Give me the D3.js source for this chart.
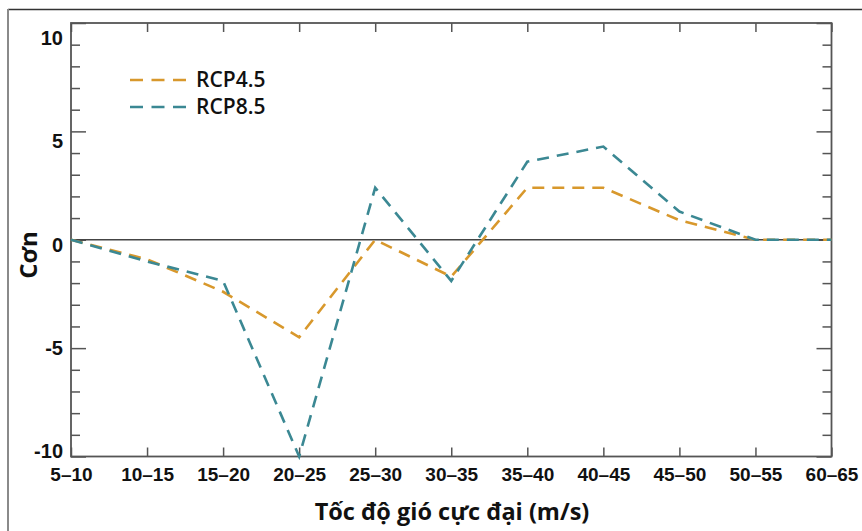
<!DOCTYPE html>
<html>
<head>
<meta charset="utf-8">
<script src="https://cdn.jsdelivr.net/npm/d3@7"></script>
<style>
  body { margin: 0; background: #fff; }
  svg { display: block; font-family: "Open Sans", sans-serif; }
  .axis path.domain { display: none; }
  .axis line { stroke: #555; stroke-width: 1.5; }
  .axis text { font-size: 19px; font-weight: 700; fill: #111; }
</style>
</head>
<body>
<svg id="chart" width="862" height="531"></svg>
<script>
// categories (wind speed bins) and series values
var categories = ["5–10", "10–15", "15–20", "20–25", "25–30", "30–35", "35–40", "40–45", "45–50", "50–55", "60–65"];
var rcp45 = [0, -0.9, -2.4, -4.5, 0, -1.7, 2.4, 2.4, 0.9, 0, 0];
var rcp85 = [0, -1.0, -1.9, -10, 2.4, -1.9, 3.6, 4.3, 1.3, 0, 0];
var seriesNames = ["RCP4.5", "RCP8.5"];
var seriesColors = ["#d8982c", "#3b8893"];
var yMajorTicks = [-10, -5, 0, 5, 10];

var svg = d3.select("#chart"),
    margin = {top: 23, right: 30.5, bottom: 74.5, left: 71},
    width = +svg.attr("width") - margin.left - margin.right,
    height = +svg.attr("height") - margin.top - margin.bottom;

// outer frame (top + left visible)
svg.append("line").attr("x1", 8).attr("x2", 862).attr("y1", 9.5).attr("y2", 9.5)
    .attr("stroke", "#333").attr("stroke-width", 1.5);
svg.append("line").attr("x1", 8).attr("x2", 8).attr("y1", 9).attr("y2", 531)
    .attr("stroke", "#8a8a8a").attr("stroke-width", 2);

var g = svg.append("g").attr("transform", "translate(" + margin.left + "," + margin.top + ")");

var x = d3.scalePoint().domain(categories).range([0, width]);
var y = d3.scaleLinear().domain([-10, 10]).range([height, 0]);

var yMinorTicks = d3.range(-10, 11).filter(function(v) { return yMajorTicks.indexOf(v) < 0; });

// left axis: minor + major ticks pointing inward
g.append("g").attr("class", "axis")
    .call(d3.axisLeft(y).tickValues(yMinorTicks).tickSize(-9).tickFormat(""));
g.append("g").attr("class", "axis axis--y")
    .call(d3.axisLeft(y).tickValues(yMajorTicks).tickSize(-15).tickPadding(8).tickFormat(d3.format("d")))
  .selectAll("text")
    .style("font-size", "20px")
    .attr("dy", function(d) { return (0.32 * 20 + 5 + d) + "px"; })
    .text(function(d) { return d < 0 ? "-" + Math.abs(d) : d; });

// right axis
g.append("g").attr("class", "axis").attr("transform", "translate(" + width + ",0)")
    .call(d3.axisRight(y).tickValues(yMinorTicks).tickSize(-9).tickFormat(""));
g.append("g").attr("class", "axis").attr("transform", "translate(" + width + ",0)")
    .call(d3.axisRight(y).tickValues(yMajorTicks).tickSize(-15).tickFormat(""));

// bottom axis with labels, top axis ticks only
g.append("g").attr("class", "axis axis--x")
    .attr("transform", "translate(0," + height + ")")
    .call(d3.axisBottom(x).tickSize(-9).tickPadding(11));
g.append("g").attr("class", "axis")
    .call(d3.axisTop(x).tickSize(-9).tickFormat(""));

// plot frame
g.append("rect").attr("width", width).attr("height", height)
    .attr("fill", "none").attr("stroke", "#555").attr("stroke-width", 1.8);

// zero line
g.append("line").attr("x1", 0).attr("x2", width).attr("y1", y(0)).attr("y2", y(0))
    .attr("stroke", "#444").attr("stroke-width", 1.3);

var line = d3.line()
    .x(function(d, i) { return x(categories[i]); })
    .y(function(d) { return y(d); });

[rcp45, rcp85].forEach(function(s, i) {
  g.append("path")
      .datum(s)
      .attr("fill", "none")
      .attr("stroke", seriesColors[i])
      .attr("stroke-width", 2.6)
      .attr("stroke-dasharray", "12,8")
      .attr("d", line);
});

// legend
var legend = g.selectAll(".legend")
    .data(seriesNames)
  .enter().append("g")
    .attr("class", "legend")
    .attr("transform", function(d, i) { return "translate(59," + (57 + i * 27) + ")"; });
legend.append("line")
    .attr("x1", 0).attr("x2", 56).attr("y1", 0).attr("y2", 0)
    .attr("stroke", function(d, i) { return seriesColors[i]; })
    .attr("stroke-width", 2.6)
    .attr("stroke-dasharray", "13,8.5");
legend.append("text")
    .attr("x", 66).attr("y", 0).attr("dy", "0.35em")
    .style("font-size", "21px").style("font-weight", 600).attr("fill", "#111")
    .text(function(d) { return d; });

// axis titles
svg.append("text")
    .attr("x", 452).attr("y", 512).attr("dy", "0.35em")
    .attr("text-anchor", "middle")
    .style("font-size", "23.5px").style("font-weight", 700).attr("fill", "#111")
    .text("Tốc độ gió cực đại (m/s)");
svg.append("text")
    .attr("transform", "translate(29,255) rotate(-90)")
    .attr("dy", "0.35em")
    .attr("text-anchor", "middle")
    .style("font-size", "24px").style("font-weight", 700).attr("fill", "#111")
    .text("Cơn");
</script>
</body>
</html>
